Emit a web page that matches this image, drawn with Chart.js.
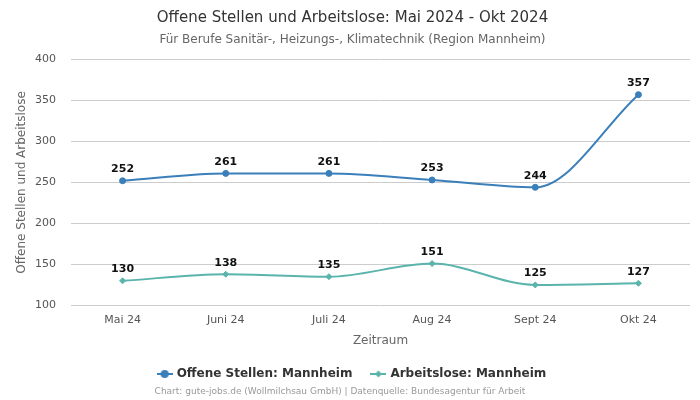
<!DOCTYPE html>
<html>
<head>
<meta charset="utf-8">
<script src="https://cdn.jsdelivr.net/npm/chart.js@4"></script>
<style>
  body { margin: 0; background: #fff; }
  #wrap { width: 700px; height: 400px; }
</style>
</head>
<body>
<div id="wrap"><canvas id="chart"></canvas></div>
<script>
const months = ["Mai 24", "Juni 24", "Juli 24", "Aug 24", "Sept 24", "Okt 24"];
const offeneStellen = [252, 261, 261, 253, 244, 357];
const arbeitslose = [130, 138, 135, 151, 125, 127];
const yTicks = [100, 150, 200, 250, 300, 350, 400];

const FONT = "'DejaVu Sans', sans-serif";
const BLUE = "#3a7fba";
const TEAL = "#5ab4ac";

// little line-with-marker image for the legend
function legendIcon(color, diamond) {
  const c = document.createElement("canvas");
  c.width = 16; c.height = 10;
  const g = c.getContext("2d");
  g.strokeStyle = color; g.fillStyle = color; g.lineWidth = 2;
  g.beginPath(); g.moveTo(0, 5); g.lineTo(16, 5); g.stroke();
  g.beginPath();
  if (diamond) {
    g.moveTo(8, 1.5); g.lineTo(11.5, 5); g.lineTo(8, 8.5); g.lineTo(4.5, 5);
  } else {
    g.arc(8, 5, 4, 0, Math.PI * 2);
  }
  g.fill();
  return c;
}
const icons = [legendIcon(BLUE, false), legendIcon(TEAL, true)];

// labels over the points + footer line
const labelPlugin = {
  id: "labels",
  afterDatasetsDraw(chart) {
    const ctx = chart.ctx;
    ctx.save();
    ctx.font = "bold 11px " + FONT;
    ctx.fillStyle = "#111";
    ctx.textAlign = "center";
    ctx.textBaseline = "bottom";
    chart.data.datasets.forEach((ds, i) => {
      chart.getDatasetMeta(i).data.forEach((pt, j) => {
        ctx.fillText(ds.data[j], pt.x, pt.y - 6);
      });
    });
    ctx.font = "9px " + FONT;
    ctx.fillStyle = "#999";
    ctx.textBaseline = "middle";
    ctx.fillText("Chart: gute-jobs.de (Wollmilchsau GmbH) | Datenquelle: Bundesagentur für Arbeit", 340, 392);
    ctx.restore();
  }
};

new Chart(document.getElementById("chart"), {
  type: "line",
  data: {
    labels: months,
    datasets: [
      {
        label: "Offene Stellen: Mannheim",
        data: offeneStellen,
        borderColor: BLUE,
        backgroundColor: BLUE,
        borderWidth: 2,
        pointStyle: "circle",
        pointRadius: 3,
        pointBorderWidth: 1,
        cubicInterpolationMode: "monotone"
      },
      {
        label: "Arbeitslose: Mannheim",
        data: arbeitslose,
        borderColor: TEAL,
        backgroundColor: TEAL,
        borderWidth: 2,
        pointStyle: "rectRot",
        pointRadius: 3,
        pointBorderWidth: 1,
        cubicInterpolationMode: "monotone"
      }
    ]
  },
  options: {
    responsive: true,
    maintainAspectRatio: false,
    animation: false,
    layout: { padding: { left: 15, right: 10, bottom: 10 } },
    plugins: {
      title: {
        display: true,
        text: "Offene Stellen und Arbeitslose: Mai 2024 - Okt 2024",
        color: "#333",
        font: { family: FONT, size: 15, weight: "normal" },
        padding: { top: 9, bottom: 6 }
      },
      subtitle: {
        display: true,
        text: "Für Berufe Sanitär-, Heizungs-, Klimatechnik (Region Mannheim)",
        color: "#666",
        font: { family: FONT, size: 12 },
        padding: { bottom: 12 }
      },
      legend: {
        position: "bottom",
        labels: {
          usePointStyle: true,
          color: "#333",
          font: { family: FONT, size: 12, weight: "bold" },
          padding: 20,
          generateLabels(chart) {
            return chart.data.datasets.map((ds, i) => ({
              text: ds.label,
              pointStyle: icons[i],
              fontColor: "#333",
              datasetIndex: i,
              hidden: false
            }));
          }
        }
      },
      tooltip: { enabled: false }
    },
    scales: {
      x: {
        offset: true,
        grid: { display: false },
        border: { display: false },
        ticks: { color: "#555", font: { family: FONT, size: 11 }, padding: 0 },
        title: {
          display: true,
          text: "Zeitraum",
          color: "#666",
          font: { family: FONT, size: 12 },
          padding: { top: 7, bottom: 0 }
        }
      },
      y: {
        min: 100,
        max: 400,
        afterBuildTicks(scale) { scale.ticks = yTicks.map(v => ({ value: v })); },
        afterFit(scale) { scale.width = 56; },
        grid: { color: "#ccc", drawTicks: false },
        border: { display: false },
        ticks: { color: "#555", font: { family: FONT, size: 11 }, padding: 15 },
        title: {
          display: true,
          text: "Offene Stellen und Arbeitslose",
          color: "#666",
          font: { family: FONT, size: 12 },
          padding: { top: 0, bottom: 5 }
        }
      }
    }
  },
  plugins: [labelPlugin]
});
</script>
</body>
</html>
